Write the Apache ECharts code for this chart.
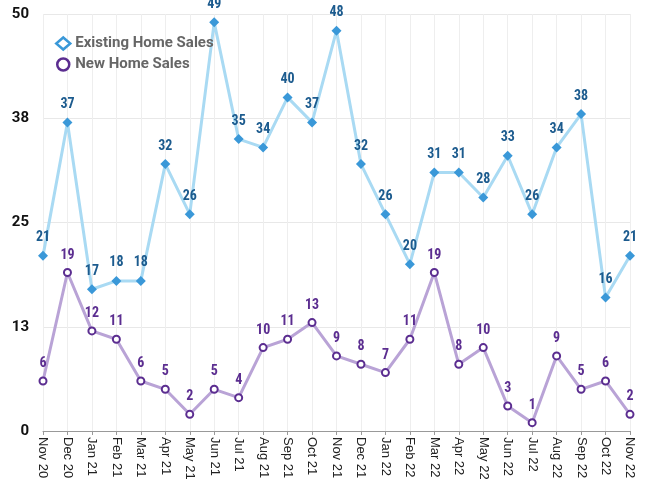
<!DOCTYPE html>
<html>
<head>
<meta charset="utf-8">
<script src="https://cdn.jsdelivr.net/npm/echarts@6/dist/echarts.min.js"></script>
<style>
  html, body { margin: 0; padding: 0; background: #fff; }
  #main { width: 650px; height: 481px; }
</style>
</head>
<body>
<div id="main"></div>
<script>
// 月份
const months = ['Nov 20','Dec 20','Jan 21','Feb 21','Mar 21','Apr 21','May 21','Jun 21','Jul 21','Aug 21','Sep 21','Oct 21','Nov 21','Dec 21','Jan 22','Feb 22','Mar 22','Apr 22','May 22','Jun 22','Jul 22','Aug 22','Sep 22','Oct 22','Nov 22']
const existingSales = [21,37,17,18,18,32,26,49,35,34,40,37,48,32,26,20,31,31,28,33,26,34,38,16,21]
const newSales = [6,19,12,11,6,5,2,5,4,10,11,13,9,8,7,11,19,8,10,3,1,9,5,6,2]

const labelFont = '"Liberation Sans Narrow", "Roboto Condensed", "Roboto", sans-serif'

const chart = echarts.init(document.getElementById('main'))
const option = {
  animation: false,
  legend: {
    left: 50,
    top: 31,
    orient: 'vertical',
    itemGap: 6,
    itemWidth: 14,
    itemHeight: 12,
    textStyle: {
      color: '#666',
      fontSize: 15,
      fontWeight: 'bold',
      fontFamily: 'Roboto, sans-serif'
    },
    data: [
      { name: 'Existing Home Sales', icon: 'diamond', itemStyle: { color: '#fff', borderColor: '#3a98d8', borderWidth: 2.5 } },
      { name: 'New Home Sales', icon: 'circle', itemStyle: { color: '#fff', borderColor: '#5b2d90', borderWidth: 2.5 } }
    ]
  },
  grid: {
    left: 43,
    right: 20,
    top: 14,
    bottom: 50,
    containLabel: false,
    outerBoundsMode: 'none'
  },
  xAxis: {
    type: 'category',
    boundaryGap: false,
    data: months,
    axisLabel: {
      rotate: -90,
      color: '#222',
      fontSize: 13,
      fontFamily: '"Liberation Sans", Arial, sans-serif',
      margin: 6,
      interval: 0
    },
    axisTick: { show: true, inside: false, length: 4, lineStyle: { color: '#999' } },
    axisLine: { lineStyle: { color: '#999' } },
    splitLine: { show: true, lineStyle: { color: '#eee' } }
  },
  yAxis: {
    type: 'value',
    min: 0,
    max: 50,
    interval: 12.5,
    axisLabel: {
      color: '#111',
      fontSize: 15,
      fontWeight: 'bold',
      fontFamily: 'Roboto, sans-serif',
      margin: 14,
      formatter: v => Math.round(v)
    },
    axisTick: { show: false },
    axisLine: { show: false },
    splitLine: { lineStyle: { color: '#e8e8e8' } }
  },
  series: [
    {
      name: 'Existing Home Sales',
      type: 'line',
      data: existingSales,
      symbol: 'diamond',
      symbolSize: 10,
      itemStyle: { color: '#3a98d8' },
      lineStyle: { color: '#a9daf3', width: 3 },
      label: {
        show: true,
        position: 'top',
        distance: 6,
        color: '#1c5b8e',
        fontSize: 14,
        fontWeight: 'bold',
        fontFamily: labelFont
      },
      z: 3
    },
    {
      name: 'New Home Sales',
      type: 'line',
      data: newSales,
      symbol: 'emptyCircle',
      symbolSize: 7,
      itemStyle: { color: '#5b2d90', borderWidth: 2 },
      lineStyle: { color: '#b9a3d6', width: 3 },
      label: {
        show: true,
        position: 'top',
        distance: 6,
        color: '#5b2d90',
        fontSize: 14,
        fontWeight: 'bold',
        fontFamily: labelFont
      },
      z: 2
    }
  ]
}
chart.setOption(option)
</script>
</body>
</html>
